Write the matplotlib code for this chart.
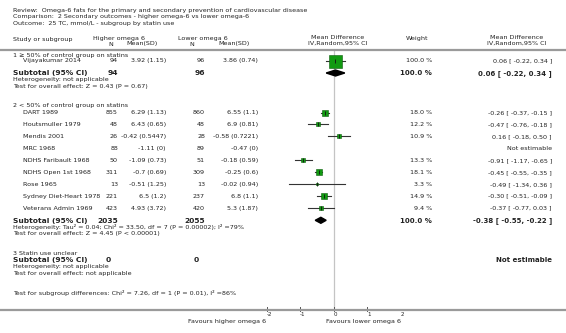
import numpy as np
import matplotlib.pyplot as plt
from matplotlib.lines import Line2D

# study data
g1_studies = ['Vijayakumar 2014']
g1_n_high = [94]
g1_sd_high = ['3.92 (1.15)']
g1_n_low = [96]
g1_sd_low = ['3.86 (0.74)']
g1_md = [0.06]
g1_lo = [-0.22]
g1_hi = [0.34]
g1_weight = [100.0]
g1_total = (94, 96, 0.06, -0.22, 0.34)

g2_studies = ['DART 1989', 'Houtsmuller 1979', 'Mendis 2001', 'MRC 1968',
              'NDHS Faribault 1968', 'NDHS Open 1st 1968', 'Rose 1965',
              'Sydney Diet-Heart 1978', 'Veterans Admin 1969']
g2_n_high = [855, 48, 26, 88, 50, 311, 13, 221, 423]
g2_sd_high = ['6.29 (1.13)', '6.43 (0.65)', '-0.42 (0.5447)', '-1.11 (0)',
              '-1.09 (0.73)', '-0.7 (0.69)', '-0.51 (1.25)', '6.5 (1.2)', '4.93 (3.72)']
g2_n_low = [860, 48, 28, 89, 51, 309, 13, 237, 420]
g2_sd_low = ['6.55 (1.1)', '6.9 (0.81)', '-0.58 (0.7221)', '-0.47 (0)',
             '-0.18 (0.59)', '-0.25 (0.6)', '-0.02 (0.94)', '6.8 (1.1)', '5.3 (1.87)']
g2_md = [-0.26, -0.47, 0.16, np.nan, -0.91, -0.45, -0.49, -0.30, -0.37]
g2_lo = [-0.37, -0.76, -0.18, np.nan, -1.17, -0.55, -1.34, -0.51, -0.77]
g2_hi = [-0.15, -0.18, 0.50, np.nan, -0.65, -0.35, 0.36, -0.09, 0.03]
g2_weight = [18.0, 12.2, 10.9, np.nan, 13.3, 18.1, 3.3, 14.9, 9.4]
g2_total = (2035, 2055, -0.38, -0.55, -0.22)

ticks = [-2, -1, 0, 1, 2]

W, H = 566, 333
fig = plt.figure(figsize=(W / 100, H / 100), dpi=100)
fig.patch.set_facecolor('white')

TXT = '#222222'
SMALL = 4.55
BIG = 5.4


def put(x, y, s, ha='left', size=SMALL, bold=False):
    fig.text(x / W, 1 - y / H, s, ha=ha, va='center', fontsize=size,
             color=TXT, fontweight='bold' if bold else 'normal')


def hline(y, color='#9a9a9a', lw=1.6):
    fig.add_artist(Line2D([0, 1], [1 - y / H] * 2, transform=fig.transFigure,
                          color=color, lw=lw))


# forest axes: x in mean-difference units, y in pixel rows
x0, x1 = 267, 400
ax = fig.add_axes([x0 / W, 0, (x1 - x0) / W, 1])
ax.set_xlim(-2, 2)
ax.set_ylim(H, 0)
ax.axis('off')

# header
put(13, 10.7, 'Review:  Omega-6 fats for the primary and secondary prevention of cardiovascular disease')
put(13, 16.9, 'Comparison:  2 Secondary outcomes - higher omega-6 vs lower omega-6')
put(13, 23.1, 'Outcome:  25 TC, mmol/L - subgroup by statin use')

put(13, 39, 'Study or subgroup')
put(93, 38.5, 'Higher omega 6')
put(111, 44, 'N', ha='center')
put(142, 44, 'Mean(SD)', ha='center')
put(178, 38.5, 'Lower omega 6')
put(192, 44, 'N', ha='center')
put(234, 44, 'Mean(SD)', ha='center')
put(338, 37.5, 'Mean Difference', ha='center')
put(338, 43.3, 'IV,Random,95% CI', ha='center')
put(417, 38.5, 'Weight', ha='center')
put(517, 37.5, 'Mean Difference', ha='center')
put(517, 43.3, 'IV,Random,95% CI', ha='center')
hline(49.5)

ax.plot([0, 0], [50, 309], color='#c4c4c4', lw=0.9, zorder=1)


def ci_text(m, lo, hi):
    return '%.2f [ %.2f, %.2f ]' % (m, lo, hi)


def study_rows(ys, names, nh, sh, nl, sl, md, lo, hi, wt):
    for y, nm, a, b, c, d, m, l, h, w in zip(ys, names, nh, sh, nl, sl, md, lo, hi, wt):
        put(23, y, nm)
        put(118, y, str(a), ha='right')
        put(166, y, b, ha='right')
        put(205, y, str(c), ha='right')
        put(258, y, d, ha='right')
        if np.isnan(m):
            put(552, y, 'Not estimable', ha='right')
            continue
        put(432, y, '%.1f %%' % w, ha='right')
        put(552, y, ci_text(m, l, h), ha='right')
        ax.plot([l, h], [y, y], color='#333333', lw=0.8, zorder=2)
        side = 13 * np.sqrt(w / 100) * 0.72
        ax.scatter([m], [y], s=side ** 2, marker='s', color='#119a11',
                   edgecolors='#0b5e0b', linewidths=0.4, zorder=3)
        ax.plot([m], [y], marker='|', color='#111111', markersize=2.5, mew=0.6, zorder=4)


def subtotal(y, tot, het, test):
    nh, nl, m, l, h = tot
    put(13, y, 'Subtotal (95% CI)', size=BIG, bold=True)
    put(118, y, str(nh), ha='right', size=BIG, bold=True)
    put(205, y, str(nl), ha='right', size=BIG, bold=True)
    put(432, y, '100.0 %', ha='right', size=5.0, bold=True)
    put(552, y, ci_text(m, l, h), ha='right', size=5.0, bold=True)
    ax.fill([l, m, h, m], [y - 0.3, y - 3.3, y - 0.3, y + 2.7], color='black', zorder=3)
    put(13, y + 6.5, het)
    put(13, y + 12.8, test)


# group 1
put(13, 55.2, '1 \u2265 50% of control group on statins')
study_rows([60.7], g1_studies, g1_n_high, g1_sd_high, g1_n_low, g1_sd_low,
           g1_md, g1_lo, g1_hi, g1_weight)
subtotal(73.3, g1_total, 'Heterogeneity: not applicable',
         'Test for overall effect: Z = 0.43 (P = 0.67)')

# group 2
put(13, 105, '2 < 50% of control group on statins')
g2_y = [112.5 + 11.97 * i for i in range(len(g2_studies))]
study_rows(g2_y, g2_studies, g2_n_high, g2_sd_high, g2_n_low, g2_sd_low,
           g2_md, g2_lo, g2_hi, g2_weight)
subtotal(220.6, g2_total,
         'Heterogeneity: Tau\u00b2 = 0.04; Chi\u00b2 = 33.50, df = 7 (P = 0.00002); I\u00b2 =79%',
         'Test for overall effect: Z = 4.45 (P < 0.00001)')

# group 3
put(13, 253.8, '3 Statin use unclear')
put(13, 259.6, 'Subtotal (95% CI)', size=BIG, bold=True)
put(108, 259.6, '0', ha='center', size=BIG, bold=True)
put(196, 259.6, '0', ha='center', size=BIG, bold=True)
put(552, 259.6, 'Not estimable', ha='right', size=5.0, bold=True)
put(13, 266.8, 'Heterogeneity: not applicable')
put(13, 273.2, 'Test for overall effect: not applicable')

put(13, 293, 'Test for subgroup differences: Chi\u00b2 = 7.26, df = 1 (P = 0.01), I\u00b2 =86%')

# bottom axis
hline(309.5)
for t in ticks:
    ax.plot([t, t], [306.8, 310.5], color='#555555', lw=0.7)
    ax.text(t + 0.06, 314.2, str(t), ha='center', va='center', fontsize=4.0, color=TXT)
put(266, 321.3, 'Favours higher omega 6', ha='right')
put(326, 321.3, 'Favours lower omega 6')

fig.savefig('out.png', dpi=100, facecolor='white')
